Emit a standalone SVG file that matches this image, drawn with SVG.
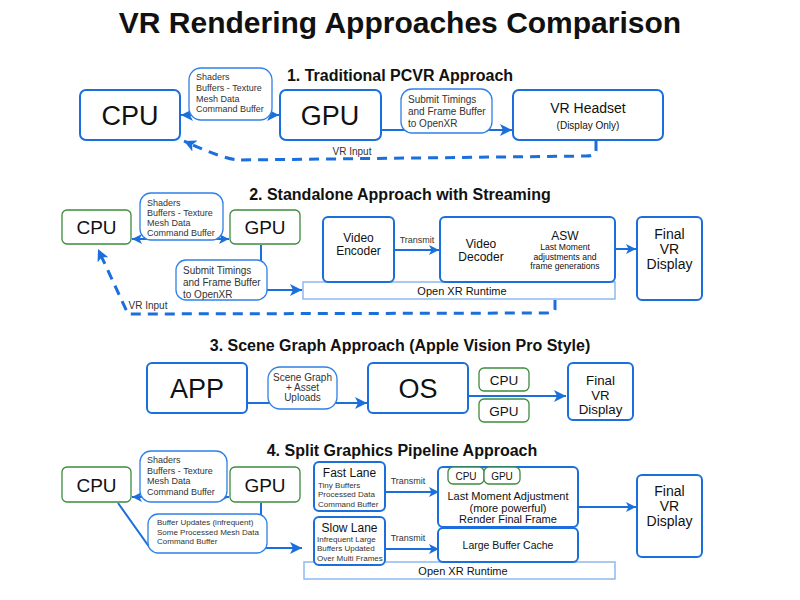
<svg xmlns="http://www.w3.org/2000/svg" width="800" height="600" viewBox="0 0 800 600">
<defs>
<style>
text{font-family:"Liberation Sans",Arial,sans-serif;fill:#111}
.title{font-size:30px;font-weight:bold}
.h{font-size:16px;font-weight:bold}
.box{fill:#fff;stroke:#1a6fdc;stroke-width:2}
.gbox{fill:#fff;stroke:#3d8b3d;stroke-width:1.3}
.lbl{fill:#fff;stroke:#2f80e6;stroke-width:1.3}
.bar{fill:#fff;stroke:#8fb9ee;stroke-width:1.5}
.sm{font-size:10px;fill:#333}
.s9{font-size:9px;fill:#333}
.xs{font-size:8px;fill:#333}
.ln{fill:none;stroke:#1a6fdc;stroke-width:2}
.dash{fill:none;stroke:#1a6fdc;stroke-width:3;stroke-dasharray:10 7}
</style>
<marker id="ah" markerUnits="userSpaceOnUse" markerWidth="14" markerHeight="12" refX="12" refY="6" orient="auto-start-reverse"><path d="M0,0 L12,6 L0,12 L3,6 Z" fill="#1a6fdc"/></marker>
<marker id="ahs" markerUnits="userSpaceOnUse" markerWidth="12" markerHeight="10" refX="10" refY="5" orient="auto-start-reverse"><path d="M0,0 L10,5 L0,10 L2.5,5 Z" fill="#1a6fdc"/></marker>
</defs>
<rect width="800" height="600" fill="#fff"/>
<text class="title" x="400" y="33" text-anchor="middle">VR Rendering Approaches Comparison</text>

<!-- Section 1 -->
<text class="h" x="400" y="81" text-anchor="middle">1. Traditional PCVR Approach</text>
<g id="connectors1">
<path class="ln" d="M181,115 H279" marker-start="url(#ah)" marker-end="url(#ah)"/>
<path class="ln" d="M381,130 H512" marker-end="url(#ah)"/>
<path class="dash" d="M596,141 V150 Q596,156 586,156 L240,160 Q225,160 184,141" marker-end="url(#ah)"/>
<text class="sm" x="352" y="155" text-anchor="middle">VR Input</text>
</g>
<g id="s1-cpu"><rect class="box" x="80" y="90" width="100" height="50" rx="6"/><text x="130" y="125" text-anchor="middle" font-size="27">CPU</text></g>
<g id="s1-lbl1"><rect class="lbl" x="189" y="68" width="83" height="52" rx="12"/>
<text class="s9" x="196" y="80">Shaders</text><text class="s9" x="196" y="91">Buffers - Texture</text><text class="s9" x="196" y="101.5">Mesh Data</text><text class="s9" x="196" y="112">Command Buffer</text></g>
<g id="s1-gpu"><rect class="box" x="280" y="90" width="101" height="50" rx="6"/><text x="330" y="125" text-anchor="middle" font-size="27">GPU</text></g>
<g id="s1-lbl2"><rect class="lbl" x="401" y="89" width="91" height="44" rx="11"/>
<text class="sm" x="408" y="103">Submit Timings</text><text class="sm" x="408" y="115">and Frame Buffer</text><text class="sm" x="408" y="127">to OpenXR</text></g>
<g id="s1-headset"><rect class="box" x="513" y="90" width="150" height="50" rx="6"/><text x="588" y="113" text-anchor="middle" font-size="14">VR Headset</text><text x="588" y="129" text-anchor="middle" font-size="10">(Display Only)</text></g>

<!-- Section 2 -->
<text class="h" x="400" y="200" text-anchor="middle">2. Standalone Approach with Streaming</text>
<g id="connectors2">
<path class="ln" d="M132,239 H229" marker-start="url(#ahs)" marker-end="url(#ahs)"/>
<path class="ln" d="M261,245 V290 H302" marker-end="url(#ah)"/>
<path class="ln" d="M394,250 H439" marker-end="url(#ahs)"/>
<path class="ln" d="M615,249 H636" marker-end="url(#ahs)"/>
<path class="dash" d="M555,300 V309 Q555,313 546,313 L128,314 L98,249" marker-end="url(#ah)"/>
<text class="s9" x="417" y="243" text-anchor="middle">Transmit</text>
<text class="sm" x="148" y="309" text-anchor="middle">VR Input</text>
</g>
<g id="s2-cpu"><rect class="gbox" x="62" y="210" width="69" height="34" rx="5"/><text x="96.5" y="234" text-anchor="middle" font-size="19">CPU</text></g>
<g id="s2-lbl1"><rect class="lbl" x="140" y="193" width="83" height="47" rx="11"/>
<text class="s9" x="147" y="206">Shaders</text><text class="s9" x="147" y="216">Buffers - Texture</text><text class="s9" x="147" y="226">Mesh Data</text><text class="s9" x="147" y="236">Command Buffer</text></g>
<g id="s2-gpu"><rect class="gbox" x="230" y="210" width="70" height="34" rx="5"/><text x="265" y="234" text-anchor="middle" font-size="19">GPU</text></g>
<g id="s2-lbl2"><rect class="lbl" x="176" y="260" width="91" height="40" rx="10"/>
<text class="sm" x="183" y="274">Submit Timings</text><text class="sm" x="183" y="286">and Frame Buffer</text><text class="sm" x="183" y="297.5">to OpenXR</text></g>
<g id="s2-openxr"><rect class="bar" x="303" y="282" width="312" height="17"/><text x="462" y="294.5" text-anchor="middle" font-size="11" fill="#333">Open XR Runtime</text></g>
<g id="s2-encoder"><rect class="box" x="323" y="217" width="71" height="65" rx="5"/><text x="358.5" y="242" text-anchor="middle" font-size="12">Video</text><text x="358.5" y="255" text-anchor="middle" font-size="12">Encoder</text></g>
<g id="s2-decoder"><rect class="box" x="440" y="217" width="175" height="65" rx="5"/>
<text x="481" y="248" text-anchor="middle" font-size="12">Video</text><text x="481" y="261" text-anchor="middle" font-size="12">Decoder</text>
<text x="565" y="240" text-anchor="middle" font-size="12">ASW</text>
<text x="565" y="250" text-anchor="middle" font-size="8.6" fill="#222">Last Moment</text><text x="565" y="259.5" text-anchor="middle" font-size="8.6" fill="#222">adjustments and</text><text x="565" y="269" text-anchor="middle" font-size="8.6" fill="#222">frame generations</text></g>
<g id="s2-display"><rect class="box" x="637" y="217" width="65" height="83" rx="5"/>
<text x="669.5" y="239" text-anchor="middle" font-size="14">Final</text><text x="669.5" y="254" text-anchor="middle" font-size="14">VR</text><text x="669.5" y="269" text-anchor="middle" font-size="14">Display</text></g>

<!-- Section 3 -->
<text class="h" x="400" y="351" text-anchor="middle">3. Scene Graph Approach (Apple Vision Pro Style)</text>
<g id="connectors3">
<path class="ln" d="M247,403 H367" marker-end="url(#ah)"/>
<path class="ln" d="M468,396 H566" marker-end="url(#ah)"/>
</g>
<g id="s3-app"><rect class="box" x="147" y="363" width="100" height="50" rx="5"/><text x="197" y="398" text-anchor="middle" font-size="27">APP</text></g>
<g id="s3-lbl"><rect class="lbl" x="268" y="367" width="69" height="42" rx="12"/>
<text class="sm" x="302.5" y="381" text-anchor="middle">Scene Graph</text><text class="sm" x="302.5" y="391" text-anchor="middle">+ Asset</text><text class="sm" x="302.5" y="401" text-anchor="middle">Uploads</text></g>
<g id="s3-os"><rect class="box" x="368" y="363" width="100" height="50" rx="5"/><text x="418" y="398" text-anchor="middle" font-size="27">OS</text></g>
<g id="s3-cpu"><rect class="gbox" x="479" y="368" width="50" height="23" rx="5"/><text x="504" y="384.5" text-anchor="middle" font-size="13.5" fill="#222">CPU</text></g>
<g id="s3-gpu"><rect class="gbox" x="479" y="399" width="50" height="23" rx="5"/><text x="504" y="415.5" text-anchor="middle" font-size="13.5" fill="#222">GPU</text></g>
<g id="s3-display"><rect class="box" x="568" y="363" width="65" height="57" rx="5"/>
<text x="600.5" y="385" text-anchor="middle" font-size="13.3">Final</text><text x="600.5" y="399.5" text-anchor="middle" font-size="13.3">VR</text><text x="600.5" y="414" text-anchor="middle" font-size="13.3">Display</text></g>

<!-- Section 4 -->
<text class="h" x="402" y="456" text-anchor="middle">4. Split Graphics Pipeline Approach</text>
<g id="connectors4">
<path class="ln" d="M132,497 H229" marker-start="url(#ahs)" marker-end="url(#ahs)"/>
<path class="ln" stroke-width="2.5" d="M118,503 L150,548 H302" marker-end="url(#ah)"/>
<path class="ln" d="M261,503 V548"/>
<path class="ln" d="M385,492 H439" marker-end="url(#ahs)"/>
<path class="ln" d="M385,549 H439" marker-end="url(#ahs)"/>
<path class="ln" d="M578,507 H636" marker-end="url(#ahs)"/>
<text class="s9" x="408" y="484" text-anchor="middle">Transmit</text>
<text class="s9" x="408" y="541" text-anchor="middle">Transmit</text>
</g>
<g id="s4-cpu"><rect class="gbox" x="62" y="467" width="69" height="35" rx="5"/><text x="96.5" y="492" text-anchor="middle" font-size="19">CPU</text></g>
<g id="s4-lbl1"><rect class="lbl" x="140" y="451" width="87" height="51" rx="11"/>
<text class="s9" x="147" y="463">Shaders</text><text class="s9" x="147" y="473.5">Buffers - Texture</text><text class="s9" x="147" y="484">Mesh Data</text><text class="s9" x="147" y="494.5">Command Buffer</text></g>
<g id="s4-gpu"><rect class="gbox" x="230" y="467" width="70" height="35" rx="5"/><text x="265" y="492" text-anchor="middle" font-size="19">GPU</text></g>
<g id="s4-lbl2"><rect class="lbl" x="148" y="514" width="119" height="39" rx="10"/>
<text class="xs" x="157" y="525">Buffer Updates (infrequent)</text><text class="xs" x="157" y="534.5">Some Processed Mesh Data</text><text class="xs" x="157" y="544">Command Buffer</text></g>
<g id="s4-openxr"><rect class="bar" x="304" y="562" width="311" height="17"/><text x="463" y="574.5" text-anchor="middle" font-size="11" fill="#333">Open XR Runtime</text></g>
<g id="s4-fast"><rect class="box" x="314" y="462" width="71" height="49" rx="5"/>
<text x="349.5" y="477" text-anchor="middle" font-size="12">Fast Lane</text>
<text class="xs" x="318" y="487.5">Tiny Buffers</text><text class="xs" x="318" y="497">Processed Data</text><text class="xs" x="318" y="506.5">Command Buffer</text></g>
<g id="s4-slow"><rect class="box" x="314" y="517" width="71" height="48" rx="5"/>
<text x="349.5" y="532" text-anchor="middle" font-size="12">Slow Lane</text>
<text class="xs" x="317" y="541.5">Infrequent Large</text><text class="xs" x="317" y="551">Buffers Updated</text><text class="xs" x="317" y="560.5">Over Multi Frames</text></g>
<g id="s4-lma"><rect class="box" x="438" y="467" width="140" height="60" rx="5"/>
<text x="508" y="500" text-anchor="middle" font-size="11">Last Moment Adjustment</text><text x="508" y="511.5" text-anchor="middle" font-size="11">(more powerful)</text><text x="508" y="523" text-anchor="middle" font-size="11">Render Final Frame</text></g>
<g id="s4-cpu2"><rect class="gbox" x="448" y="467" width="36" height="17" rx="5"/><text x="466" y="479.5" text-anchor="middle" font-size="10">CPU</text></g>
<g id="s4-gpu2"><rect class="gbox" x="484" y="467" width="36" height="17" rx="5"/><text x="502" y="479.5" text-anchor="middle" font-size="10">GPU</text></g>
<g id="s4-cache"><rect class="box" x="438" y="528" width="140" height="34" rx="5"/><text x="508" y="549" text-anchor="middle" font-size="10.5">Large Buffer Cache</text></g>
<g id="s4-display"><rect class="box" x="637" y="475" width="65" height="82" rx="5"/>
<text x="669.5" y="496" text-anchor="middle" font-size="14">Final</text><text x="669.5" y="511" text-anchor="middle" font-size="14">VR</text><text x="669.5" y="526" text-anchor="middle" font-size="14">Display</text></g>
</svg>
